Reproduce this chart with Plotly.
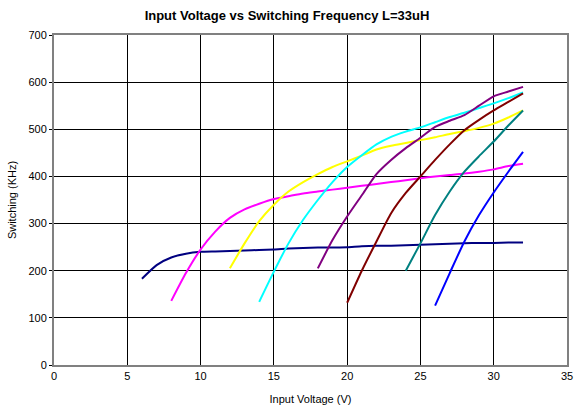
import plotly.graph_objects as go

# Input voltage (V) per curve and measured switching frequency (kHz)
v_navy = [6, 7, 8, 9, 10, 11, 12, 13, 14, 15, 16, 17, 18, 19, 20, 21, 22, 23, 24, 25, 26, 27, 28, 29, 30, 31, 32]
f_navy = [183, 212, 228, 236, 240, 241, 242, 243, 244, 245, 247, 248, 249, 249, 250, 252, 253, 253, 254, 255, 256, 257, 258, 259, 259, 260, 260]

v_magenta = [8, 9, 10, 11, 12, 13, 14, 15, 16, 17, 18, 19, 20, 21, 22, 23, 24, 25, 26, 27, 28, 29, 30, 31, 32]
f_magenta = [136, 195, 245, 283, 312, 330, 342, 352, 358, 364, 368, 372, 376, 380, 384, 388, 392, 396, 400, 403, 406, 410, 415, 422, 427]

v_yellow = [12, 13, 14, 15, 16, 17, 18, 19, 20, 21, 22, 23, 24, 25, 26, 27, 28, 29, 30, 31, 32]
f_yellow = [205, 258, 305, 340, 368, 388, 405, 420, 432, 444, 457, 465, 471, 477, 483, 490, 496, 503, 512, 525, 540]

v_cyan = [14, 15, 16, 17, 18, 19, 20, 21, 22, 23, 24, 25, 26, 27, 28, 29, 30, 31, 32]
f_cyan = [134, 198, 258, 308, 350, 388, 420, 445, 468, 484, 495, 504, 515, 526, 535, 545, 555, 566, 578]

v_purple = [18, 19, 20, 21, 22, 23, 24, 25, 26, 27, 28, 29, 30, 31, 32]
f_purple = [205, 265, 315, 360, 405, 435, 460, 482, 505, 518, 530, 550, 570, 580, 590]

v_maroon = [20, 21, 22, 23, 24, 25, 26, 27, 28, 29, 30, 31, 32]
f_maroon = [132, 200, 262, 322, 365, 400, 435, 468, 498, 520, 540, 558, 576]

v_teal = [24, 25, 26, 27, 28, 29, 30, 31, 32]
f_teal = [200, 258, 318, 368, 410, 443, 474, 508, 540]

v_blue = [26, 27, 28, 29, 30, 31, 32]
f_blue = [126, 195, 262, 318, 366, 410, 452]

SERIES = [
    (v_navy, f_navy, '#000080'),
    (v_magenta, f_magenta, '#FF00FF'),
    (v_yellow, f_yellow, '#FFFF00'),
    (v_cyan, f_cyan, '#00FFFF'),
    (v_purple, f_purple, '#800080'),
    (v_maroon, f_maroon, '#800000'),
    (v_teal, f_teal, '#008080'),
    (v_blue, f_blue, '#0000FF'),
]

FONT = 'Liberation Sans, Arial, sans-serif'

AXIS_STYLE = dict(
    showgrid=True,
    gridcolor='#000000',
    gridwidth=1,
    zeroline=False,
    showline=True,
    linecolor='#808080',
    linewidth=2,
    mirror=True,
    automargin=False,
    tickfont=dict(family=FONT, size=11, color='#000000'),
    title_font=dict(family=FONT, size=11, color='#000000'),
)

fig = go.Figure()
for v, f, color in SERIES:
    fig.add_trace(go.Scatter(
        x=v, y=f,
        mode='lines',
        line=dict(color=color, width=2, shape='spline', smoothing=0.6),
        showlegend=False,
    ))

fig.update_layout(
    width=574, height=409,
    paper_bgcolor='white',
    plot_bgcolor='white',
    margin=dict(l=54, r=7, t=35, b=44),
    title=dict(
        text='<b>Input Voltage vs Switching Frequency L=33uH</b>',
        x=0.5, xanchor='center', y=0.963, yanchor='middle',
        font=dict(family=FONT, size=13, color='#000000'),
    ),
    xaxis=dict(**AXIS_STYLE, range=[0, 35], dtick=5, ticks='',
               title=dict(text='Input Voltage (V)', standoff=14)),
    yaxis=dict(**AXIS_STYLE, range=[0, 700], dtick=100, ticks='outside', ticklen=3, tickcolor='#000000',
               title=dict(text='Switching (KHz)', standoff=10)),
)

fig.write_html("out.html", config={'displayModeBar': False},
               post_script="document.body.style.margin='0';")
